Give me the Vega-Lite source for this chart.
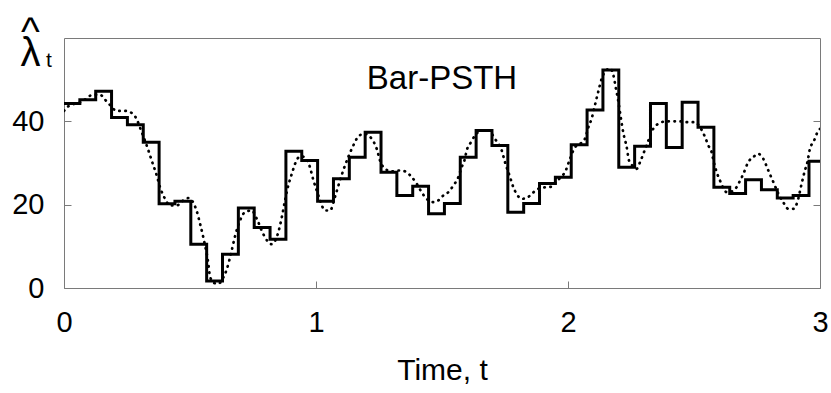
{
  "$schema": "https://vega.github.io/schema/vega-lite/v6.json",
  "width": 756,
  "height": 250,
  "autosize": {"type": "none"},
  "padding": {"left": 64, "top": 38, "right": 11, "bottom": 105},
  "background": "white",
  "config": {
    "view": {"stroke": "#7a7a7a", "strokeWidth": 1},
    "font": "Liberation Sans",
    "axis": {"grid": false, "domain": false, "tickColor": "#7a7a7a", "tickWidth": 1, "labelColor": "black", "titleColor": "black", "labelFont": "Liberation Sans", "titleFont": "Liberation Sans", "labelFontWeight": "normal", "titleFontWeight": "normal"}
  },
  "datasets": {
    "psth": [
      {"t": 0.0, "rate": 44.3}, {"t": 0.0629, "rate": 45.2}, {"t": 0.1258, "rate": 47.2}, {"t": 0.1887, "rate": 40.9},
      {"t": 0.2516, "rate": 39.2}, {"t": 0.3145, "rate": 35.0}, {"t": 0.3774, "rate": 20.2}, {"t": 0.4403, "rate": 20.8},
      {"t": 0.5032, "rate": 10.5}, {"t": 0.5661, "rate": 1.7}, {"t": 0.629, "rate": 8.1}, {"t": 0.6919, "rate": 19.2},
      {"t": 0.7548, "rate": 14.5}, {"t": 0.8177, "rate": 11.7}, {"t": 0.8806, "rate": 32.8}, {"t": 0.9435, "rate": 30.6},
      {"t": 1.0064, "rate": 20.8}, {"t": 1.0693, "rate": 26.2}, {"t": 1.1322, "rate": 31.4}, {"t": 1.1951, "rate": 37.4},
      {"t": 1.258, "rate": 27.8}, {"t": 1.3209, "rate": 22.2}, {"t": 1.3838, "rate": 24.4}, {"t": 1.4467, "rate": 17.8},
      {"t": 1.5096, "rate": 20.3}, {"t": 1.5725, "rate": 31.4}, {"t": 1.6354, "rate": 37.8}, {"t": 1.6983, "rate": 34.2},
      {"t": 1.7612, "rate": 18.2}, {"t": 1.8241, "rate": 20.3}, {"t": 1.887, "rate": 25.1}, {"t": 1.9499, "rate": 26.6},
      {"t": 2.0128, "rate": 34.4}, {"t": 2.0757, "rate": 42.7}, {"t": 2.1386, "rate": 52.3}, {"t": 2.2015, "rate": 29.0},
      {"t": 2.2644, "rate": 34.0}, {"t": 2.3273, "rate": 44.3}, {"t": 2.3902, "rate": 33.7}, {"t": 2.4531, "rate": 44.6},
      {"t": 2.516, "rate": 38.6}, {"t": 2.5789, "rate": 24.2}, {"t": 2.6418, "rate": 22.7}, {"t": 2.7047, "rate": 26.0},
      {"t": 2.7676, "rate": 23.6}, {"t": 2.8305, "rate": 21.6}, {"t": 2.8934, "rate": 22.2}, {"t": 2.9563, "rate": 30.4},
      {"t": 3.0, "rate": 30.4}
    ],
    "truth": [
      {"t": 0.0, "lam": 42.5}, {"t": 0.017, "lam": 43.6}, {"t": 0.07, "lam": 44.7}, {"t": 0.116, "lam": 46.4},
      {"t": 0.143, "lam": 46.4}, {"t": 0.163, "lam": 45.2}, {"t": 0.183, "lam": 43.9}, {"t": 0.209, "lam": 42.5},
      {"t": 0.242, "lam": 42.5}, {"t": 0.269, "lam": 42.0}, {"t": 0.286, "lam": 40.8}, {"t": 0.306, "lam": 37.8},
      {"t": 0.335, "lam": 33.0}, {"t": 0.348, "lam": 30.6}, {"t": 0.368, "lam": 27.0}, {"t": 0.381, "lam": 24.2},
      {"t": 0.401, "lam": 21.4}, {"t": 0.421, "lam": 19.8}, {"t": 0.447, "lam": 19.8}, {"t": 0.473, "lam": 21.0},
      {"t": 0.493, "lam": 21.6}, {"t": 0.526, "lam": 18.6}, {"t": 0.54, "lam": 15.4}, {"t": 0.553, "lam": 12.1},
      {"t": 0.573, "lam": 5.7}, {"t": 0.579, "lam": 2.9}, {"t": 0.593, "lam": 1.3}, {"t": 0.612, "lam": 1.0},
      {"t": 0.632, "lam": 2.5}, {"t": 0.646, "lam": 4.5}, {"t": 0.665, "lam": 8.9}, {"t": 0.679, "lam": 12.5},
      {"t": 0.698, "lam": 16.1}, {"t": 0.718, "lam": 18.2}, {"t": 0.745, "lam": 18.6}, {"t": 0.765, "lam": 16.6},
      {"t": 0.791, "lam": 12.9}, {"t": 0.824, "lam": 10.5}, {"t": 0.85, "lam": 13.3}, {"t": 0.864, "lam": 16.9},
      {"t": 0.877, "lam": 21.0}, {"t": 0.89, "lam": 24.6}, {"t": 0.904, "lam": 27.4}, {"t": 0.917, "lam": 29.8},
      {"t": 0.937, "lam": 31.6}, {"t": 0.956, "lam": 31.4}, {"t": 0.976, "lam": 29.0}, {"t": 0.989, "lam": 26.0},
      {"t": 1.003, "lam": 23.4}, {"t": 1.016, "lam": 21.0}, {"t": 1.036, "lam": 18.6}, {"t": 1.056, "lam": 18.6},
      {"t": 1.075, "lam": 21.8}, {"t": 1.089, "lam": 24.6}, {"t": 1.108, "lam": 28.2}, {"t": 1.128, "lam": 31.4},
      {"t": 1.148, "lam": 34.2}, {"t": 1.172, "lam": 36.6}, {"t": 1.194, "lam": 37.0}, {"t": 1.221, "lam": 35.8},
      {"t": 1.241, "lam": 33.4}, {"t": 1.254, "lam": 30.6}, {"t": 1.274, "lam": 28.6}, {"t": 1.3, "lam": 28.0},
      {"t": 1.33, "lam": 28.2}, {"t": 1.353, "lam": 28.0}, {"t": 1.38, "lam": 26.6}, {"t": 1.4, "lam": 25.0},
      {"t": 1.419, "lam": 23.0}, {"t": 1.439, "lam": 21.4}, {"t": 1.466, "lam": 20.6}, {"t": 1.485, "lam": 21.0},
      {"t": 1.505, "lam": 22.2}, {"t": 1.525, "lam": 23.0}, {"t": 1.545, "lam": 24.6}, {"t": 1.565, "lam": 26.6},
      {"t": 1.578, "lam": 29.0}, {"t": 1.589, "lam": 30.6}, {"t": 1.598, "lam": 33.0}, {"t": 1.615, "lam": 35.0},
      {"t": 1.631, "lam": 36.6}, {"t": 1.657, "lam": 37.8}, {"t": 1.684, "lam": 37.8}, {"t": 1.71, "lam": 35.8},
      {"t": 1.737, "lam": 33.0}, {"t": 1.75, "lam": 30.2}, {"t": 1.77, "lam": 26.6}, {"t": 1.783, "lam": 24.2},
      {"t": 1.796, "lam": 22.6}, {"t": 1.816, "lam": 21.4}, {"t": 1.836, "lam": 21.6}, {"t": 1.856, "lam": 22.6},
      {"t": 1.882, "lam": 23.8}, {"t": 1.915, "lam": 24.2}, {"t": 1.935, "lam": 24.3}, {"t": 1.955, "lam": 25.6},
      {"t": 1.975, "lam": 26.8}, {"t": 1.988, "lam": 27.8}, {"t": 2.008, "lam": 31.0}, {"t": 2.028, "lam": 33.8},
      {"t": 2.048, "lam": 34.6}, {"t": 2.067, "lam": 35.8}, {"t": 2.081, "lam": 38.6}, {"t": 2.094, "lam": 40.7},
      {"t": 2.107, "lam": 43.9}, {"t": 2.12, "lam": 47.1}, {"t": 2.134, "lam": 50.3}, {"t": 2.147, "lam": 51.9},
      {"t": 2.167, "lam": 52.7}, {"t": 2.18, "lam": 51.1}, {"t": 2.19, "lam": 47.9}, {"t": 2.2, "lam": 44.7},
      {"t": 2.21, "lam": 40.7}, {"t": 2.219, "lam": 37.4}, {"t": 2.233, "lam": 33.8}, {"t": 2.242, "lam": 30.6},
      {"t": 2.259, "lam": 29.2}, {"t": 2.272, "lam": 28.6}, {"t": 2.286, "lam": 30.2}, {"t": 2.299, "lam": 32.2},
      {"t": 2.319, "lam": 35.4}, {"t": 2.338, "lam": 38.2}, {"t": 2.358, "lam": 39.4}, {"t": 2.39, "lam": 40.0},
      {"t": 2.418, "lam": 40.0}, {"t": 2.444, "lam": 40.0}, {"t": 2.477, "lam": 39.8}, {"t": 2.504, "lam": 39.8},
      {"t": 2.524, "lam": 38.6}, {"t": 2.544, "lam": 36.2}, {"t": 2.557, "lam": 34.2}, {"t": 2.57, "lam": 32.6},
      {"t": 2.577, "lam": 30.6}, {"t": 2.59, "lam": 27.8}, {"t": 2.603, "lam": 25.8}, {"t": 2.63, "lam": 23.0},
      {"t": 2.65, "lam": 23.2}, {"t": 2.669, "lam": 24.2}, {"t": 2.683, "lam": 25.8}, {"t": 2.696, "lam": 27.4},
      {"t": 2.715, "lam": 30.2}, {"t": 2.735, "lam": 31.4}, {"t": 2.755, "lam": 32.2}, {"t": 2.775, "lam": 31.0},
      {"t": 2.795, "lam": 28.2}, {"t": 2.815, "lam": 25.4}, {"t": 2.835, "lam": 22.6}, {"t": 2.854, "lam": 20.6},
      {"t": 2.874, "lam": 19.0}, {"t": 2.894, "lam": 19.0}, {"t": 2.91, "lam": 20.6}, {"t": 2.927, "lam": 25.0},
      {"t": 2.94, "lam": 28.2}, {"t": 2.95, "lam": 30.2}, {"t": 2.96, "lam": 33.4}, {"t": 2.976, "lam": 35.3},
      {"t": 2.987, "lam": 37.0}, {"t": 3.0, "lam": 38.2}
    ],
    "labels": [
      {"x": 1.5, "y": 47.8, "txt": "Bar-PSTH"}
    ],
    "ylab": [
      {"x": -0.133, "y": 58.4, "txt": ["^", "λ"]}
    ],
    "ysub": [
      {"x": -0.06, "y": 53.0, "txt": "t"}
    ]
  },
  "resolve": {"axis": {"y": "independent", "x": "independent"}},
  "layer": [
    {
      "data": {"name": "psth"},
      "mark": {"type": "line", "interpolate": "step-after", "color": "black", "strokeWidth": 3, "strokeJoin": "miter", "strokeCap": "butt", "clip": true},
      "encoding": {
        "x": {"field": "t", "type": "quantitative", "scale": {"domain": [0, 3], "nice": false},
              "axis": {"orient": "bottom", "values": [0, 1, 2, 3], "tickSize": -7, "labelPadding": 27, "labelFontSize": 29, "title": "Time, t", "titleFontSize": 30, "titlePadding": 18, "labelFlush": false}},
        "y": {"field": "rate", "type": "quantitative", "scale": {"domain": [0, 60], "nice": false},
              "axis": {"orient": "left", "values": [0, 20, 40], "tickSize": -7, "labelPadding": 27, "labelFontSize": 29, "title": null}}
      }
    },
    {
      "data": {"name": "truth"},
      "mark": {"type": "line", "interpolate": "monotone", "color": "black", "strokeWidth": 2.7, "strokeDash": [0.5, 5.6], "strokeCap": "round", "clip": true},
      "encoding": {
        "x": {"field": "t", "type": "quantitative", "scale": {"domain": [0, 3], "nice": false}, "axis": null},
        "y": {"field": "lam", "type": "quantitative", "scale": {"domain": [0, 60], "nice": false},
              "axis": {"orient": "right", "values": [20, 40], "tickSize": -7, "labels": false, "title": null}}
      }
    },
    {
      "data": {"name": "labels"},
      "mark": {"type": "text", "fontSize": 33, "font": "Liberation Sans", "color": "black", "align": "center", "baseline": "alphabetic"},
      "encoding": {
        "x": {"field": "x", "type": "quantitative", "axis": null},
        "y": {"field": "y", "type": "quantitative", "axis": null},
        "text": {"field": "txt"}
      }
    },
    {
      "data": {"name": "ylab"},
      "mark": {"type": "text", "fontSize": 40, "lineHeight": 21, "font": "Liberation Sans", "color": "black", "align": "center", "baseline": "alphabetic"},
      "encoding": {
        "x": {"field": "x", "type": "quantitative", "axis": null},
        "y": {"field": "y", "type": "quantitative", "axis": null},
        "text": {"field": "txt"}
      }
    },
    {
      "data": {"name": "ysub"},
      "mark": {"type": "text", "fontSize": 21, "font": "Liberation Sans", "color": "black", "align": "center", "baseline": "alphabetic"},
      "encoding": {
        "x": {"field": "x", "type": "quantitative", "axis": null},
        "y": {"field": "y", "type": "quantitative", "axis": null},
        "text": {"field": "txt"}
      }
    }
  ]
}
